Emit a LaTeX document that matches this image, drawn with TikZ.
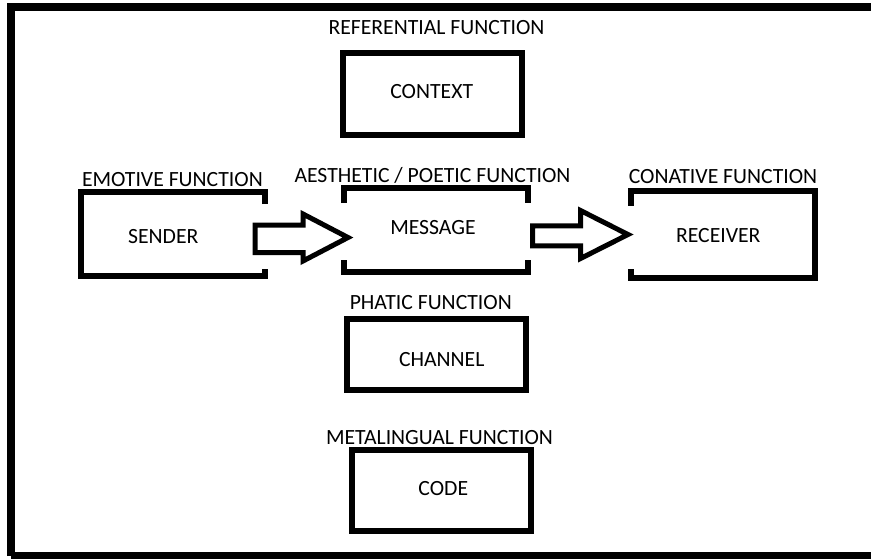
\documentclass[tikz,border=0pt]{standalone}
\usepackage{fontspec}
\setmainfont{Carlito}
\usetikzlibrary{calc}
\begin{document}
\begin{tikzpicture}[x=1pt,y=-1pt,
  txt/.style={font=\fontsize{21.7}{26}\selectfont, inner sep=0pt, text=black},
  box/.style={rectangle, inner sep=0pt, line width=6pt},
  fullbox/.style={box, draw},
  openbox/.style={box, draw=none},
  frame/.style={line width=6pt, line join=miter},
  blockarrow/.style={line width=5pt, line join=miter}]

% canvas and outer frame (runs off the right and bottom edges)
\clip (0,0) rectangle (871,558);
\draw[line width=8pt] (11,556) -- (11,6.5) -- (885,6.5);
\draw[line width=8pt] (11,556) -- (885,556);

% boxes
\node[fullbox, minimum width=179pt, minimum height=82pt] (context) at (432.5,94) {};
\node[openbox, minimum width=177.5pt, minimum height=78pt] (sender) at (172.75,234) {};
\node[openbox, minimum width=178.5pt, minimum height=78pt] (message) at (435.75,230) {};
\node[openbox, minimum width=178.5pt, minimum height=81pt] (receiver) at (722.75,234) {};
\node[fullbox, minimum width=178.8pt, minimum height=71.3pt] (channel) at (436.1,354.65) {};
\node[fullbox, minimum width=179pt, minimum height=81pt] (code) at (441.5,490.5) {};

% open frames: gaps where the arrows pass
\draw[frame] ($(sender.north east)+(0,12)$) -- (sender.north east) -- (sender.north west)
  -- (sender.south west) -- (sender.south east) -- ($(sender.south east)+(0,-7)$);
\draw[frame] ($(message.north west)+(0,15)$) -- (message.north west) -- (message.north east)
  -- ($(message.north east)+(0,15)$);
\draw[frame] ($(message.south west)+(0,-12)$) -- (message.south west) -- (message.south east)
  -- ($(message.south east)+(0,-12)$);
\draw[frame] ($(receiver.north west)+(0,15)$) -- (receiver.north west) -- (receiver.north east)
  -- (receiver.south east) -- (receiver.south west) -- ($(receiver.south west)+(0,-8.5)$);

% block arrows
\draw[blockarrow] (255,225) -- (303,225) -- (303,214) -- (348,237.5) -- (303,261)
  -- (303,252.5) -- (255,252.5) -- cycle;
\draw[blockarrow] (532.5,225.8) -- (580.5,225.8) -- (580.5,210.5) -- (628,234.5)
  -- (580.5,258.5) -- (580.5,245.8) -- (532.5,245.8) -- cycle;

% box texts
\node[txt] (contextt) at (431.7,91.7) {CONTEXT};
\node[txt] (sendert) at (163.3,236.7) {SENDER};
\node[txt] (messaget) at (433,228) {MESSAGE};
\node[txt] (receivert) at (718.3,236) {RECEIVER};
\node[txt] (channelt) at (441.7,360) {CHANNEL};
\node[txt] (codet) at (443.3,489) {CODE};

% function labels
\node[txt] (referential) at (436.5,28) {REFERENTIAL FUNCTION};
\node[txt] (emotive) at (172.4,180) {EMOTIVE FUNCTION};
\node[txt] (poetic) at (432.5,175) {AESTHETIC / POETIC FUNCTION};
\node[txt] (conative) at (723,177) {CONATIVE FUNCTION};
\node[txt] (phatic) at (430.8,302.7) {PHATIC FUNCTION};
\node[txt] (metalingual) at (439.5,437.3) {METALINGUAL FUNCTION};
\end{tikzpicture}
\end{document}
